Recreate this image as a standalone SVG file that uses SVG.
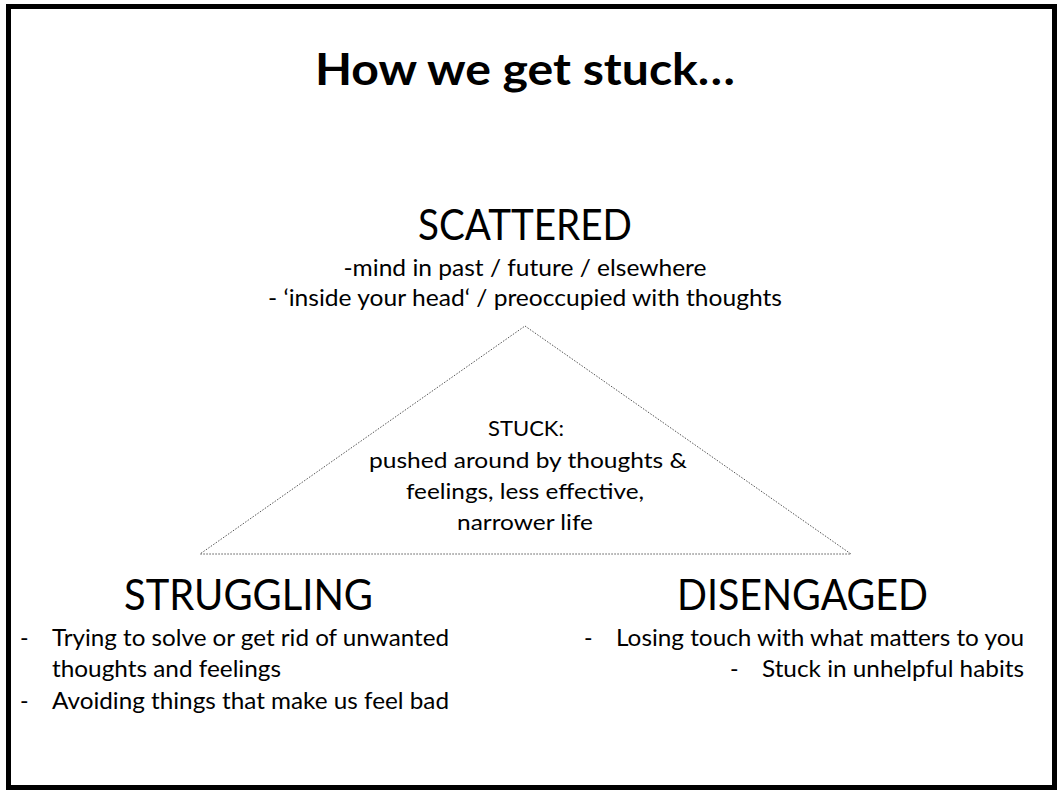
<svg xmlns="http://www.w3.org/2000/svg" width="1060" height="797" viewBox="0 0 1060 797">
<style>
text{font-family:Lato,"Open Sans","Liberation Sans",sans-serif;fill:#000}
.title{font-size:44px;font-weight:bold;text-anchor:middle}
.head{font-size:42px;text-anchor:middle}
.sub{font-size:23px;text-anchor:middle}
.body{font-size:23px}
.mid{font-size:22px;text-anchor:middle}
</style>
<rect width="1060" height="797" fill="#fff"/>
<rect x="8.5" y="6.5" width="1046" height="781" fill="none" stroke="#000" stroke-width="5"/>
<text class="title" x="525" y="85" textLength="420" lengthAdjust="spacingAndGlyphs">How we get stuck…</text>
<g id="connectors">
<polygon points="525,326 851,554 200,554" fill="none" stroke="#555" stroke-width="1" stroke-dasharray="1.5,1.5"/>
</g>
<g id="scattered">
<text class="head" x="525" y="240" textLength="214" lengthAdjust="spacingAndGlyphs">SCATTERED</text>
<text class="sub" x="525" y="276" textLength="363" lengthAdjust="spacingAndGlyphs">-mind in past / future / elsewhere</text>
<text class="sub" x="525" y="306" textLength="514" lengthAdjust="spacingAndGlyphs">- ‘inside your head‘ / preoccupied with thoughts</text>
</g>
<g id="stuck">
<text class="mid" x="526" y="436">STUCK:</text>
<text class="mid" x="528" y="468" textLength="318" lengthAdjust="spacingAndGlyphs">pushed around by thoughts &amp;</text>
<text class="mid" x="525" y="499" textLength="238" lengthAdjust="spacingAndGlyphs">feelings, less effective,</text>
<text class="mid" x="525" y="530" textLength="136" lengthAdjust="spacingAndGlyphs">narrower life</text>
</g>
<g id="struggling">
<text class="head" x="248.5" y="610" textLength="249" lengthAdjust="spacingAndGlyphs">STRUGGLING</text>
<text class="body" x="20" y="646">-</text>
<text class="body" x="52" y="646" textLength="397" lengthAdjust="spacingAndGlyphs">Trying to solve or get rid of unwanted</text>
<text class="body" x="52" y="677" textLength="229" lengthAdjust="spacingAndGlyphs">thoughts and feelings</text>
<text class="body" x="20" y="709">-</text>
<text class="body" x="52" y="709" textLength="397" lengthAdjust="spacingAndGlyphs">Avoiding things that make us feel bad</text>
</g>
<g id="disengaged">
<text class="head" x="802.5" y="610" textLength="251" lengthAdjust="spacingAndGlyphs">DISENGAGED</text>
<text class="body" x="584" y="646">-</text>
<text class="body" x="616" y="646" textLength="408" lengthAdjust="spacingAndGlyphs">Losing touch with what matters to you</text>
<text class="body" x="730" y="677">-</text>
<text class="body" x="762" y="677" textLength="262" lengthAdjust="spacingAndGlyphs">Stuck in unhelpful habits</text>
</g>
</svg>
